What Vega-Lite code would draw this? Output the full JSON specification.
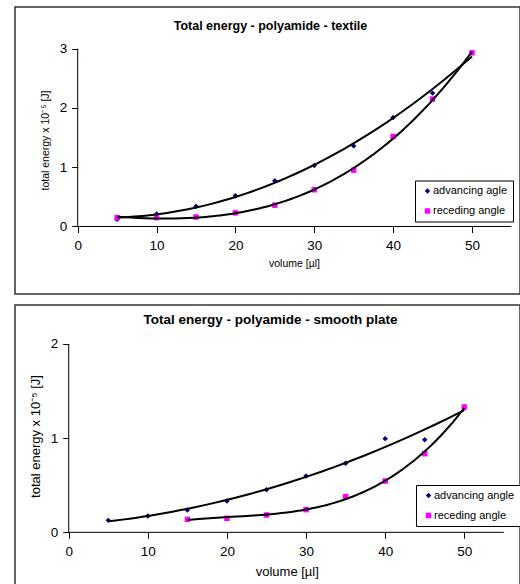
{
  "$schema": "https://vega.github.io/schema/vega-lite/v6.json",
  "padding": {"left": 14, "top": 6, "right": 0, "bottom": 0},
  "background": "white",
  "spacing": 9,
  "config": {
    "view": {"stroke": "#333333", "strokeWidth": 1.5},
    "font": "Liberation Sans",
    "axis": {"grid": false, "domain": false, "ticks": true, "tickColor": "#000000", "tickSize": 6, "labelFontSize": 13.5, "labelColor": "#000000", "titleColor": "#000000", "titleFontWeight": "normal", "labelFlush": false, "labelOverlap": false},
    "axisX": {"labelPadding": 6},
    "axisY": {"labelPadding": 5},
    "legend": {"labelFontSize": 11, "labelColor": "#000000", "strokeColor": "#000000", "fillColor": "#ffffff", "padding": 5, "rowPadding": 8, "symbolSize": 30, "symbolOffset": 2, "labelOffset": 0, "symbolStrokeWidth": 0, "title": null}
  },
  "datasets": {
    "textile": [
      {"series": "advancing agle", "volume": 5, "energy": 0.12},
      {"series": "advancing agle", "volume": 10, "energy": 0.21},
      {"series": "advancing agle", "volume": 15, "energy": 0.34},
      {"series": "advancing agle", "volume": 20, "energy": 0.52},
      {"series": "advancing agle", "volume": 25, "energy": 0.77},
      {"series": "advancing agle", "volume": 30, "energy": 1.03},
      {"series": "advancing agle", "volume": 35, "energy": 1.36},
      {"series": "advancing agle", "volume": 40, "energy": 1.84},
      {"series": "advancing agle", "volume": 45, "energy": 2.25},
      {"series": "advancing agle", "volume": 50, "energy": 2.93},
      {"series": "receding angle", "volume": 5, "energy": 0.15},
      {"series": "receding angle", "volume": 10, "energy": 0.15},
      {"series": "receding angle", "volume": 15, "energy": 0.16},
      {"series": "receding angle", "volume": 20, "energy": 0.23},
      {"series": "receding angle", "volume": 25, "energy": 0.36},
      {"series": "receding angle", "volume": 30, "energy": 0.62},
      {"series": "receding angle", "volume": 35, "energy": 0.95},
      {"series": "receding angle", "volume": 40, "energy": 1.52},
      {"series": "receding angle", "volume": 45, "energy": 2.15},
      {"series": "receding angle", "volume": 50, "energy": 2.93}
    ],
    "smooth": [
      {"series": "advancing angle", "volume": 5, "energy": 0.127},
      {"series": "advancing angle", "volume": 10, "energy": 0.173},
      {"series": "advancing angle", "volume": 15, "energy": 0.237},
      {"series": "advancing angle", "volume": 20, "energy": 0.333},
      {"series": "advancing angle", "volume": 25, "energy": 0.453},
      {"series": "advancing angle", "volume": 30, "energy": 0.598},
      {"series": "advancing angle", "volume": 35, "energy": 0.733},
      {"series": "advancing angle", "volume": 40, "energy": 0.995},
      {"series": "advancing angle", "volume": 45, "energy": 0.984},
      {"series": "advancing angle", "volume": 50, "energy": 1.33},
      {"series": "receding angle", "volume": 15, "energy": 0.138},
      {"series": "receding angle", "volume": 20, "energy": 0.149},
      {"series": "receding angle", "volume": 25, "energy": 0.184},
      {"series": "receding angle", "volume": 30, "energy": 0.241},
      {"series": "receding angle", "volume": 35, "energy": 0.379},
      {"series": "receding angle", "volume": 40, "energy": 0.545},
      {"series": "receding angle", "volume": 45, "energy": 0.835},
      {"series": "receding angle", "volume": 50, "energy": 1.33}
    ],
    "axesTop": [
      {"volume": 0, "energy": 0, "volume2": 55, "energy2": 0},
      {"volume": 0, "energy": 0, "volume2": 0, "energy2": 3}
    ],
    "axesBottom": [
      {"volume": 0, "energy": 0, "volume2": 55, "energy2": 0},
      {"volume": 0, "energy": 0, "volume2": 0, "energy2": 2}
    ]
  },
  "vconcat": [
    {
      "width": 505,
      "height": 287,
      "title": {"text": "Total energy - polyamide - textile", "frame": "group", "anchor": "middle", "baseline": "middle", "offset": -18.7, "dy": 12.5, "dx": 3, "fontSize": 12.5, "fontWeight": "bold", "color": "#000000"},
      "encoding": {
        "x": {"field": "volume", "type": "quantitative", "scale": {"domain": [-7.95, 56.09], "nice": false, "zero": false},
              "axis": {"values": [0, 10, 20, 30, 40, 50], "offset": -67.5, "title": "volume [µl]", "titleFontSize": 10.5, "titleX": 279, "titleY": 37, "titleBaseline": "middle"}},
        "y": {"field": "energy", "type": "quantitative", "scale": {"domain": [-1.139, 3.703], "nice": false, "zero": false},
              "axis": {"values": [0, 1, 2, 3], "offset": -62.7, "title": "total energy x 10⁻⁵ [J]", "titleFontSize": 10.5, "titleX": -31.7, "titleY": 133, "titleBaseline": "middle", "titleAngle": -90}}
      },
      "layer": [
        {
          "data": {"name": "textile"},
          "mark": {"type": "point", "filled": true, "opacity": 1, "size": 30, "strokeWidth": 0},
          "encoding": {
            "color": {"field": "series", "type": "nominal", "scale": {"domain": ["advancing agle", "receding angle"], "range": ["#000080", "#FF00FF"]},
                      "legend": {"orient": "none", "legendX": 400, "legendY": 173.5, "title": null}},
            "shape": {"field": "series", "type": "nominal", "scale": {"domain": ["advancing agle", "receding angle"], "range": ["diamond", "square"]},
                      "legend": {"orient": "none", "legendX": 400, "legendY": 173.5, "title": null}}
          }
        },
        {
          "data": {"name": "textile"},
          "transform": [
            {"filter": "datum.series == 'advancing agle'"},
            {"regression": "energy", "on": "volume", "method": "poly", "order": 2}
          ],
          "mark": {"type": "line", "color": "#000000", "strokeWidth": 2},
          "encoding": {}
        },
        {
          "data": {"name": "textile"},
          "transform": [
            {"filter": "datum.series == 'receding angle'"},
            {"regression": "energy", "on": "volume", "method": "poly", "order": 3}
          ],
          "mark": {"type": "line", "color": "#000000", "strokeWidth": 2},
          "encoding": {}
        },
        {
          "data": {"name": "axesTop"},
          "mark": {"type": "rule", "color": "#000000", "strokeWidth": 1},
          "encoding": {"x2": {"field": "volume2"}, "y2": {"field": "energy2"}}
        }
      ]
    },
    {
      "width": 505,
      "height": 281,
      "title": {"text": "Total energy - polyamide - smooth plate", "frame": "group", "anchor": "middle", "baseline": "middle", "offset": -18.7, "dy": 10, "dx": 3, "fontSize": 13.5, "fontWeight": "bold", "color": "#000000"},
      "encoding": {
        "x": {"field": "volume", "type": "quantitative", "scale": {"domain": [-6.79, 57.04], "nice": false, "zero": false},
              "axis": {"values": [0, 10, 20, 30, 40, 50], "offset": -53.7, "title": "volume [µl]", "titleFontSize": 13, "titleX": 271.8, "titleY": 39, "titleBaseline": "middle"}},
        "y": {"field": "energy", "type": "quantitative", "scale": {"domain": [-0.57, 2.414], "nice": false, "zero": false},
              "axis": {"values": [0, 1, 2], "offset": -53.7, "title": "total energy x 10⁻⁵ [J]", "titleFontSize": 13, "titleX": -32.7, "titleY": 131, "titleBaseline": "middle", "titleAngle": -90}}
      },
      "layer": [
        {
          "data": {"name": "smooth"},
          "mark": {"type": "point", "filled": true, "opacity": 1, "size": 30, "strokeWidth": 0},
          "encoding": {
            "color": {"field": "series", "type": "nominal", "scale": {"domain": ["advancing angle", "receding angle"], "range": ["#000080", "#FF00FF"]},
                      "legend": {"orient": "none", "legendX": 401, "legendY": 180, "title": null}},
            "shape": {"field": "series", "type": "nominal", "scale": {"domain": ["advancing angle", "receding angle"], "range": ["diamond", "square"]},
                      "legend": {"orient": "none", "legendX": 401, "legendY": 180, "title": null}}
          }
        },
        {
          "data": {"name": "smooth"},
          "transform": [
            {"filter": "datum.series == 'advancing angle'"},
            {"regression": "energy", "on": "volume", "method": "poly", "order": 2}
          ],
          "mark": {"type": "line", "color": "#000000", "strokeWidth": 2},
          "encoding": {}
        },
        {
          "data": {"name": "smooth"},
          "transform": [
            {"filter": "datum.series == 'receding angle'"},
            {"regression": "energy", "on": "volume", "method": "poly", "order": 3}
          ],
          "mark": {"type": "line", "color": "#000000", "strokeWidth": 2},
          "encoding": {}
        },
        {
          "data": {"name": "axesBottom"},
          "mark": {"type": "rule", "color": "#000000", "strokeWidth": 1},
          "encoding": {"x2": {"field": "volume2"}, "y2": {"field": "energy2"}}
        }
      ]
    }
  ],
  "resolve": {
    "scale": {"color": "independent", "shape": "independent"},
    "legend": {"color": "independent", "shape": "independent"}
  }
}
